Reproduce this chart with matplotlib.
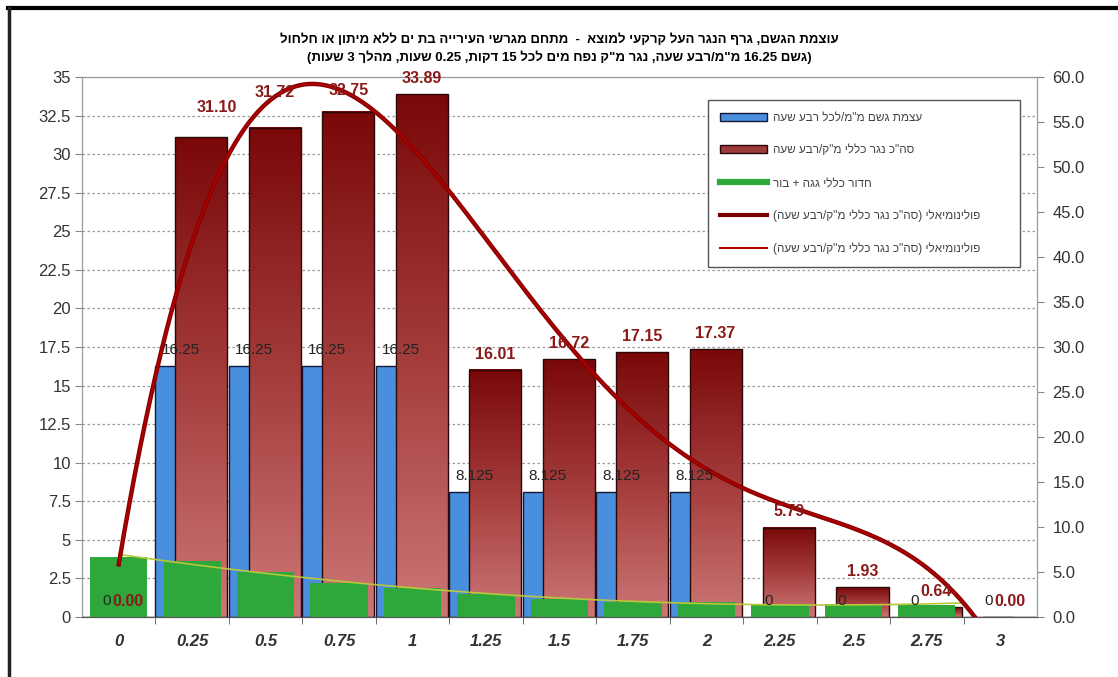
import re
import numpy as np
import matplotlib
matplotlib.use('Agg')
import matplotlib.pyplot as plt
from matplotlib.colors import LinearSegmentedColormap
from matplotlib.patches import Patch
from matplotlib.lines import Line2D

plt.rcParams['font.family'] = ['Liberation Sans', 'DejaVu Sans']

# time in hours (15 min steps)
hours = ['0', '0.25', '0.5', '0.75', '1', '1.25', '1.5', '1.75', '2', '2.25', '2.5', '2.75', '3']
rain = [0, 16.25, 16.25, 16.25, 16.25, 8.125, 8.125, 8.125, 8.125, 0, 0, 0, 0]  # mm per quarter hour
runoff = [0.00, 31.10, 31.72, 32.75, 33.89, 16.01, 16.72, 17.15, 17.37, 5.79, 1.93, 0.64, 0.00]  # m3 per quarter hour
infiltration = [6.7, 6.2, 5.0, 3.8, 3.2, 2.6, 1.95, 1.65, 1.65, 1.45, 1.4, 1.35, 0]  # right axis

title1 = 'עוצמת הגשם, גרף הנגר העל קרקעי למוצא  -  מתחם מגרשי העירייה בת ים ללא מיתון או חלחול'
title2 = '(גשם 16.25 מ"מ/רבע שעה, נגר מ"ק נפח מים לכל 15 דקות, 0.25 שעות, מהלך 3 שעות)'
names = ['עצמת גשם מ"מ/לכל רבע שעה',
         'סה"כ נגר כללי מ"ק/רבע שעה',
         'חדור כללי גגה + בור',
         'פולינומיאלי (סה"כ נגר כללי מ"ק/רבע שעה)',
         'פולינומיאלי (סה"כ נגר כללי מ"ק/רבע שעה)']

TOKENS = re.compile(r'[0-9]+(?:\.[0-9]+)?|.', re.S)
MIRROR = str.maketrans('()', ')(')


def rtl(s):
    # glyphs are laid out left to right only, so hand over the hebrew line
    # in visual order: reversed, numbers kept as they are, brackets mirrored
    return ''.join(reversed(TOKENS.findall(s))).translate(MIRROR)


BLUE = '#4a8fde'
GREEN = '#2ea83a'
red_cmap = LinearSegmentedColormap.from_list('runoff', ['#cc7676', '#a43c3c', '#7a0808'])

fig = plt.figure(figsize=(11.18, 6.77), dpi=100)
ax = fig.add_axes([82 / 1118, 60 / 677, 955 / 1118, 540 / 677])
ax2 = ax.twinx()
x = np.arange(len(hours))

ax.bar(x - 0.16, rain, 0.68, color=BLUE, edgecolor='#15153a', lw=1, zorder=2)
bars = ax.bar(x + 0.125, runoff, 0.71, facecolor='none', edgecolor='#2a0808', lw=1, zorder=3.1)
grad = np.linspace(0, 1, 256).reshape(-1, 1)
for b in bars:
    if b.get_height() > 0:
        ax.imshow(grad, extent=[b.get_x(), b.get_x() + b.get_width(), 0, b.get_height()],
                  origin='lower', aspect='auto', cmap=red_cmap, zorder=3)

ax2.bar(x, infiltration, 0.78, color=GREEN, zorder=2)

# polynomial trendlines
xs = np.linspace(0, 12, 500)
red_fit = np.polyval(np.polyfit(x, runoff, 4), xs)
ax2.plot(xs, red_fit, color='#8a0000', lw=3.2, transform=ax.transData, zorder=4)
ax2.plot(xs, red_fit, color='#b00000', lw=1.2, transform=ax.transData, zorder=4.1)
gx = xs[xs <= 11.5]
green_fit = np.polyval(np.polyfit(x[:-1], infiltration[:-1], 3), gx)
ax2.plot(gx, green_fit, color='#b8c83a', lw=1.2, zorder=3)

# data labels
for i, v in enumerate(rain):
    ax2.annotate(f'{v:g}', (i - 0.16, v), xycoords=ax.transData, textcoords='offset points',
                 xytext=(0, 11.5), ha='center', va='center', fontsize=11, color='#222222', zorder=5)
nudge = {1: (11, 10), 2: (0, 14), 3: (0, 4)}
for i, v in enumerate(runoff):
    dx, dy = nudge.get(i, (0, 0))
    ax2.annotate(f'{v:.2f}', (i + 0.125, v), xycoords=ax.transData, textcoords='offset points',
                 xytext=(dx, 11.5 + dy), ha='center', va='center', fontsize=11.5,
                 fontweight='bold', color='#8b1a1a', zorder=5)

ax.set_xlim(-0.5, 12.5)
ax.set_ylim(0, 35)
ax2.set_ylim(0, 60)
ax.set_yticks(np.arange(0, 35.1, 2.5))
ax.set_yticklabels([f'{v:g}' for v in np.arange(0, 35.1, 2.5)])
ax2.set_yticks(np.arange(0, 60.1, 5))
ax2.set_yticklabels([f'{v:.1f}' for v in np.arange(0, 60.1, 5)])
ax.set_xticks(x)
ax.set_xticklabels(hours, fontsize=12, fontweight='bold', fontstyle='italic', color='#333333')
ax.set_xticks(x[:-1] + 0.5, minor=True)
ax.tick_params(axis='x', which='major', length=0, pad=12)
ax.tick_params(axis='x', which='minor', length=5, color='#555555')
ax.tick_params(axis='y', length=5, color='#888888', labelsize=12, labelcolor='#333333', pad=3)
ax2.tick_params(axis='y', length=5, color='#888888', labelsize=12, labelcolor='#333333', pad=6)

ax.set_axisbelow(True)
ax.yaxis.grid(True, linestyle=(0, (2, 2)), color='#9a9a9a', lw=0.9)
for sp in ('left', 'right', 'top'):
    ax.spines[sp].set_color('#999999')
    ax2.spines[sp].set_color('#999999')
ax.spines['bottom'].set_color('#555555')
ax2.spines['bottom'].set_color('#555555')

handles = [Patch(facecolor=BLUE, edgecolor='#15153a'),
           Patch(facecolor='#9a3a3a', edgecolor='#2a0808'),
           Line2D([], [], color=GREEN, lw=4.5),
           Line2D([], [], color='#7a0000', lw=3),
           Line2D([], [], color='#b00000', lw=1.5)]
leg = ax2.legend(handles, [rtl(n) for n in names], loc='upper left',
                 bbox_to_anchor=(0.6555, 0.2, 0.3267, 0.7574), mode='expand',
                 borderaxespad=0, fontsize=8.5, handlelength=4, handletextpad=0.5,
                 labelspacing=1.75, borderpad=1.0, fancybox=False, framealpha=1,
                 edgecolor='#555555')
leg.get_frame().set_linewidth(1)
for t in leg.get_texts():
    t.set_color('#444444')

fig.text(0.5, 1 - 40 / 677, rtl(title1), ha='center', va='center', fontsize=9.5, fontweight='bold')
fig.text(0.5, 1 - 57 / 677, rtl(title2), ha='center', va='center', fontsize=9.5, fontweight='bold')

# outer frame of the original sheet
fig.add_artist(Line2D([8 / 1118, 1], [1 - 8 / 677] * 2, color='black', lw=3, transform=fig.transFigure))
fig.add_artist(Line2D([9 / 1118] * 2, [0, 1 - 8 / 677], color='#222222', lw=2.5, transform=fig.transFigure))

fig.savefig('out.png', dpi=100)
